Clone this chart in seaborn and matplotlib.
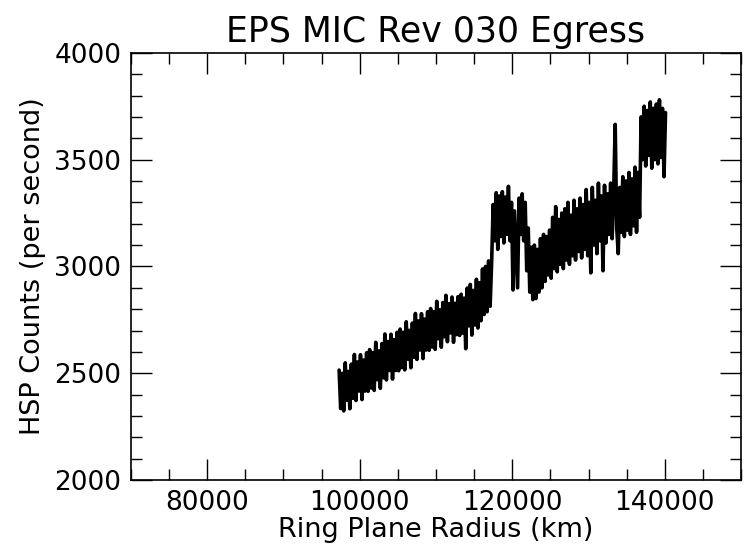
import numpy as np
import pandas as pd
import matplotlib
matplotlib.use("Agg")
import matplotlib.pyplot as plt
from matplotlib.ticker import MultipleLocator
import seaborn as sns

# ---- data ----
radius_start = 97300.0   # km
radius_end = 140100.0    # km
counts = [
    2515, 2335, 2500, 2324, 2549, 2374, 2509, 2334, 2543, 2383,
    2588, 2373, 2553, 2417, 2587, 2377, 2562, 2417, 2596, 2416,
    2611, 2431, 2596, 2420, 2645, 2470, 2605, 2430, 2639, 2479,
    2684, 2469, 2649, 2513, 2683, 2473, 2658, 2513, 2692, 2512,
    2707, 2527, 2692, 2516, 2741, 2566, 2701, 2526, 2735, 2575,
    2780, 2565, 2745, 2609, 2779, 2569, 2754, 2609, 2788, 2608,
    2803, 2623, 2788, 2612, 2837, 2662, 2797, 2622, 2831, 2671,
    2865, 2648, 2826, 2689, 2857, 2645, 2828, 2681, 2859, 2677,
    2870, 2688, 2852, 2615, 2899, 2722, 2916, 2679, 2888, 2726,
    2940, 2712, 2924, 2746, 2988, 2775, 3000, 2788, 3026, 2814,
    3022, 3290, 3120, 3345, 3080, 3330, 3140, 3350, 3110, 3325,
    3150, 3375, 3120, 3300, 2890, 3260, 3080, 2900, 3320, 3150,
    3340, 3120, 3300, 2980, 3180, 2880, 3090, 2845, 3100, 2850,
    3080, 2880, 3130, 2900, 3150, 2930, 3140, 2960, 3170, 2945,
    3230, 2990, 3280, 2975, 3220, 3010, 3250, 2990, 3270, 3030,
    3300, 3010, 3240, 3050, 3310, 3030, 3270, 3070, 3320, 3040,
    3290, 3080, 3360, 3050, 3300, 2970, 3370, 3100, 3310, 3060,
    3390, 3120, 3330, 2980, 3380, 3110, 3340, 3150, 3390, 3130,
    3350, 3665, 3180, 3060, 3370, 3160, 3420, 3140, 3400, 3170,
    3440, 3150, 3410, 3190, 3465, 3160, 3440, 3230, 3700, 3500,
    3750, 3470, 3730, 3520, 3770, 3460, 3740, 3500, 3760, 3480,
    3780, 3510, 3740, 3420, 3720,
]
radius = np.linspace(radius_start, radius_end, len(counts))

title = "EPS MIC Rev 030 Egress"
xlabel = "Ring Plane Radius (km)"
ylabel = "HSP Counts (per second)"
xticks = [80000, 100000, 120000, 140000]
yticks = [2000, 2500, 3000, 3500, 4000]

df = pd.DataFrame({"radius": radius, "counts": counts})

sns.set_style("ticks")
plt.rcParams["font.family"] = ["DejaVu Sans"]
plt.rcParams["text.color"] = "black"
plt.rcParams["axes.labelcolor"] = "black"
plt.rcParams["xtick.color"] = "black"
plt.rcParams["ytick.color"] = "black"

fig = plt.figure(figsize=(7.44, 5.5), dpi=100)
ax = fig.add_axes([0.176, 0.127, 0.820, 0.777])

sns.lineplot(data=df, x="radius", y="counts", ax=ax, color="black",
             linewidth=2.6, estimator=None, sort=False)

ax.set_xlim(70000, 150000)
ax.set_ylim(2000, 4000)
ax.set_xticks(xticks)
ax.set_yticks(yticks)
ax.set_xticklabels([str(t) for t in xticks])
ax.set_yticklabels([str(t) for t in yticks])
ax.xaxis.set_minor_locator(MultipleLocator(5000))
ax.yaxis.set_minor_locator(MultipleLocator(100))
ax.tick_params(which="both", direction="in", top=True, right=True,
               width=1.0, colors="black", labelsize=19)
ax.tick_params(which="major", length=15, pad=7)
ax.tick_params(which="minor", length=8)
for s in ax.spines.values():
    s.set_linewidth(1.2)
    s.set_color("black")

ax.set_title(title, fontsize=25, pad=8, color="black")
ax.set_xlabel(xlabel, fontsize=19.5, labelpad=1, color="black")
ax.set_ylabel(ylabel, fontsize=19.5, labelpad=6, color="black")

fig.savefig("out.png", dpi=100)
